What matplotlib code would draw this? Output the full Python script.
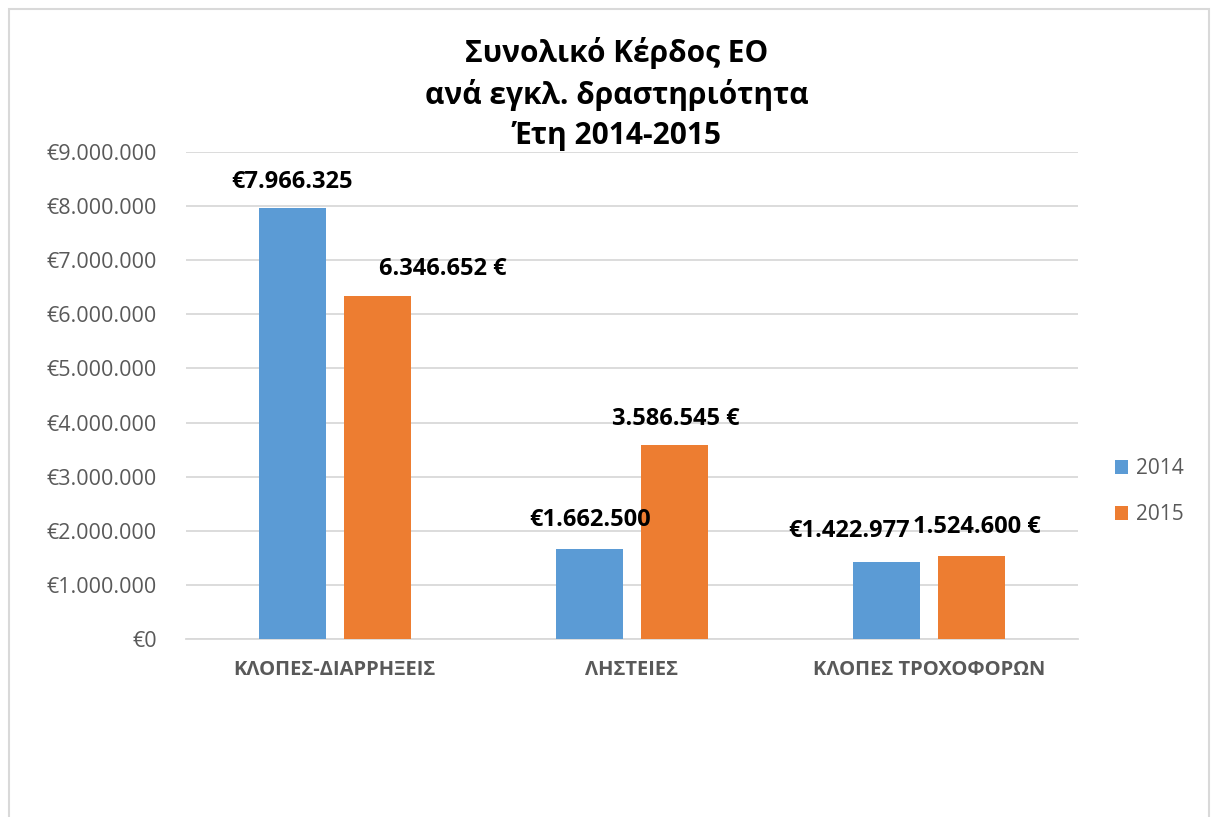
import matplotlib
matplotlib.use("Agg")
import matplotlib.pyplot as plt
from matplotlib.patches import Rectangle
from matplotlib.ticker import FuncFormatter
import numpy as np

plt.rcParams['font.family'] = ['Open Sans', 'DejaVu Sans']

categories = ["ΚΛΟΠΕΣ-ΔΙΑΡΡΗΞΕΙΣ", "ΛΗΣΤΕΙΕΣ", "ΚΛΟΠΕΣ ΤΡΟΧΟΦΟΡΩΝ"]
values_2014 = [7966325, 1662500, 1422977]
values_2015 = [6346652, 3586545, 1524600]
labels_2014 = ["€7.966.325", "€1.662.500", "€1.422.977"]
labels_2015 = ["6.346.652 €", "3.586.545 €", "1.524.600 €"]
yticks = [0, 1000000, 2000000, 3000000, 4000000, 5000000, 6000000, 7000000, 8000000, 9000000]

# label offsets in points (manual placement like in the original)
off_2014 = [(0, 19), (0, 21), (-27, 22)]
off_2015 = [(47, 19), (1, 19), (4, 21)]

blue = "#5B9BD5"
orange = "#ED7D31"
grey = "#595959"


def euro(v, pos):
    s = f"{int(v):,}".replace(",", ".")
    return "€" + s


fig = plt.figure(figsize=(12.12, 8.17), dpi=100)
ax = fig.add_axes([0.1535, 0.2179, 0.7359, 0.5961])

x = np.arange(len(categories))
w = 0.225
b1 = ax.bar(x - 0.1425, values_2014, w, color=blue, label="2014", zorder=3)
b2 = ax.bar(x + 0.1425, values_2015, w, color=orange, label="2015", zorder=3)

for rect, lab, off in zip(b1, labels_2014, off_2014):
    ax.annotate(lab, (rect.get_x() + rect.get_width() / 2, rect.get_height()),
                xytext=off, textcoords="offset points", ha="center", va="center",
                fontsize=17, fontweight="bold", color="black", zorder=4)
for rect, lab, off in zip(b2, labels_2015, off_2015):
    ax.annotate(lab, (rect.get_x() + rect.get_width() / 2, rect.get_height()),
                xytext=off, textcoords="offset points", ha="center", va="center",
                fontsize=17, fontweight="bold", color="black", zorder=4)

ax.set_xlim(-0.5, 2.5)
ax.set_ylim(0, 9000000)
ax.set_yticks(yticks)
ax.yaxis.set_major_formatter(FuncFormatter(euro))
ax.set_xticks(x)
ax.set_xticklabels(categories, fontsize=14.5, fontweight="bold", color=grey)
ax.tick_params(axis="y", length=0, pad=21, labelsize=15.5, labelcolor=grey)
ax.tick_params(axis="x", length=0, pad=15)
ax.grid(axis="y", color="#D9D9D9", linewidth=1.3, zorder=0)
for s in ["top", "right", "left"]:
    ax.spines[s].set_visible(False)
ax.spines["bottom"].set_color("#D9D9D9")
ax.spines["bottom"].set_linewidth(1.3)

fig.text(617 / 1212, 1 - 94 / 817, "Συνολικό Κέρδος ΕΟ\nανά εγκλ. δραστηριότητα\nΈτη 2014-2015",
         ha="center", va="center", fontsize=21.5, fontweight="bold", linespacing=1.42)

fig.legend(handles=[b1, b2], loc="center left",
           bbox_to_anchor=(1096 / 1212, 1 - 492 / 817), frameon=False,
           fontsize=15, handlelength=0.65, handleheight=0.65, handletextpad=0.35,
           labelspacing=1.2, labelcolor=grey)

fig.patches.append(Rectangle((9 / 1212, -0.01), 1200 / 1212, 1 - 9 / 817 + 0.01,
                             transform=fig.transFigure, fill=False,
                             edgecolor="#D9D9D9", linewidth=1.5))

fig.savefig("out.png", dpi=100)
